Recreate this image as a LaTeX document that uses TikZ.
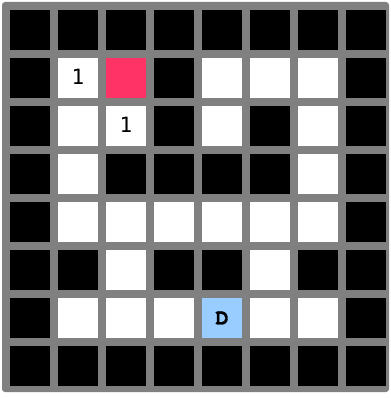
\documentclass[tikz,border=0pt]{standalone}
\usepackage{fontspec}
\newfontfamily\digitfont{DejaVu Sans Mono}
\newfontfamily\markfont{TeX Gyre Cursor}[FakeBold=1.5]
\usetikzlibrary{positioning}
\definecolor{board}{RGB}{128,128,128}
\definecolor{cellw}{RGB}{0,0,0}
\definecolor{cellf}{RGB}{255,255,255}
\definecolor{cellg}{RGB}{255,51,102}
\definecolor{cella}{RGB}{153,204,255}
\tikzset{
    cellbox/.style={rectangle, minimum size=40pt, inner sep=0pt, draw=none},
    countlbl/.style={font=\digitfont\fontsize{21}{21}\selectfont, text=black},
    agentlbl/.style={font=\markfont\bfseries\fontsize{22}{22}\selectfont, text=black},
}

\begin{document}
\begin{tikzpicture}[x=1pt, y=-1pt]
\useasboundingbox (0,0) rectangle (390,398);

% board
\fill[board, rounded corners=3pt] (2,2) rectangle (389,392);

% cells, row by row (w wall, f floor, g goal, a agent)
\foreach \row [count=\r] in {
    {w,w,w,w,w,w,w,w},
    {w,f,g,w,f,f,f,w},
    {w,f,f,w,f,w,f,w},
    {w,f,w,w,w,w,f,w},
    {w,f,f,f,f,f,f,w},
    {w,w,f,w,w,f,w,w},
    {w,f,f,f,a,f,f,w},
    {w,w,w,w,w,w,w,w}}
{
    \foreach \kind [count=\c] in \row {
        \node[cellbox, fill=cell\kind] (c\r-\c) at ({30+48*(\c-1)},{30+48*(\r-1)}) {};
    }
}

\node[countlbl] (n1) at ([yshift=1.5pt]c2-2) {1};
\node[countlbl] (n2) at ([yshift=1.5pt]c3-3) {1};
\node[agentlbl] (agent) at (c7-5) {D};

\end{tikzpicture}
\end{document}
